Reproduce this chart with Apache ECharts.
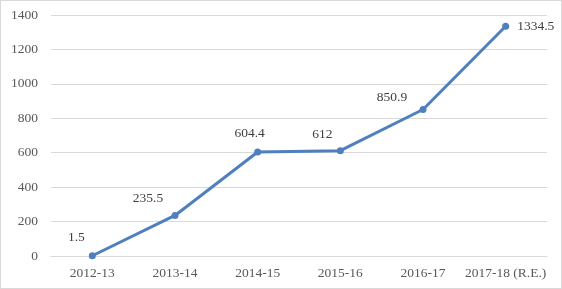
<!DOCTYPE html>
<html><head><meta charset="utf-8">
<script src="https://cdn.jsdelivr.net/npm/echarts@6/dist/echarts.min.js"></script>
<style>html,body{margin:0;padding:0;background:#fff}#c{width:562px;height:289px;box-sizing:border-box;border:1px solid #d9d9d9}</style>
</head><body><div id="c"></div>
<script>
const categories = ['2012-13','2013-14','2014-15','2015-16','2016-17','2017-18 (R.E.)'];
const values = [1.5, 235.5, 604.4, 612, 850.9, 1334.5];
const labelOffsets = [[-16,-3],[-27,-2],[-8,-3],[-18,-1],[-31,3],[3,0]];
const labelPositions = ['top','top','top','top','top','right'];
const font = '"Liberation Serif","Times New Roman",serif';
const chart = echarts.init(document.getElementById('c'));
chart.setOption({
  animation:false,
  grid:{left:50,right:14,top:14,bottom:32,containLabel:false},
  xAxis:{type:'category',data:categories,boundaryGap:true,
    axisLine:{show:true,lineStyle:{color:'#d9d9d9'}},axisTick:{show:false},
    axisLabel:{interval:0,color:'#595959',fontFamily:font,fontSize:13.5,margin:10}},
  yAxis:{type:'value',min:0,max:1400,interval:200,
    axisLine:{show:false},axisTick:{show:false},
    splitLine:{lineStyle:{color:'#d9d9d9'}},
    axisLabel:{formatter:v=>String(v),color:'#595959',fontFamily:font,fontSize:13.5,margin:13}},
  series:[{type:'line',
    data:values.map((v,i)=>({value:v,label:{position:labelPositions[i],offset:labelOffsets[i]}})),
    symbol:'circle',symbolSize:7,
    lineStyle:{color:'#4F7FBF',width:3},itemStyle:{color:'#4F7FBF'},
    label:{show:true,color:'#404040',fontFamily:font,fontSize:13.5}}]
});
</script></body></html>
